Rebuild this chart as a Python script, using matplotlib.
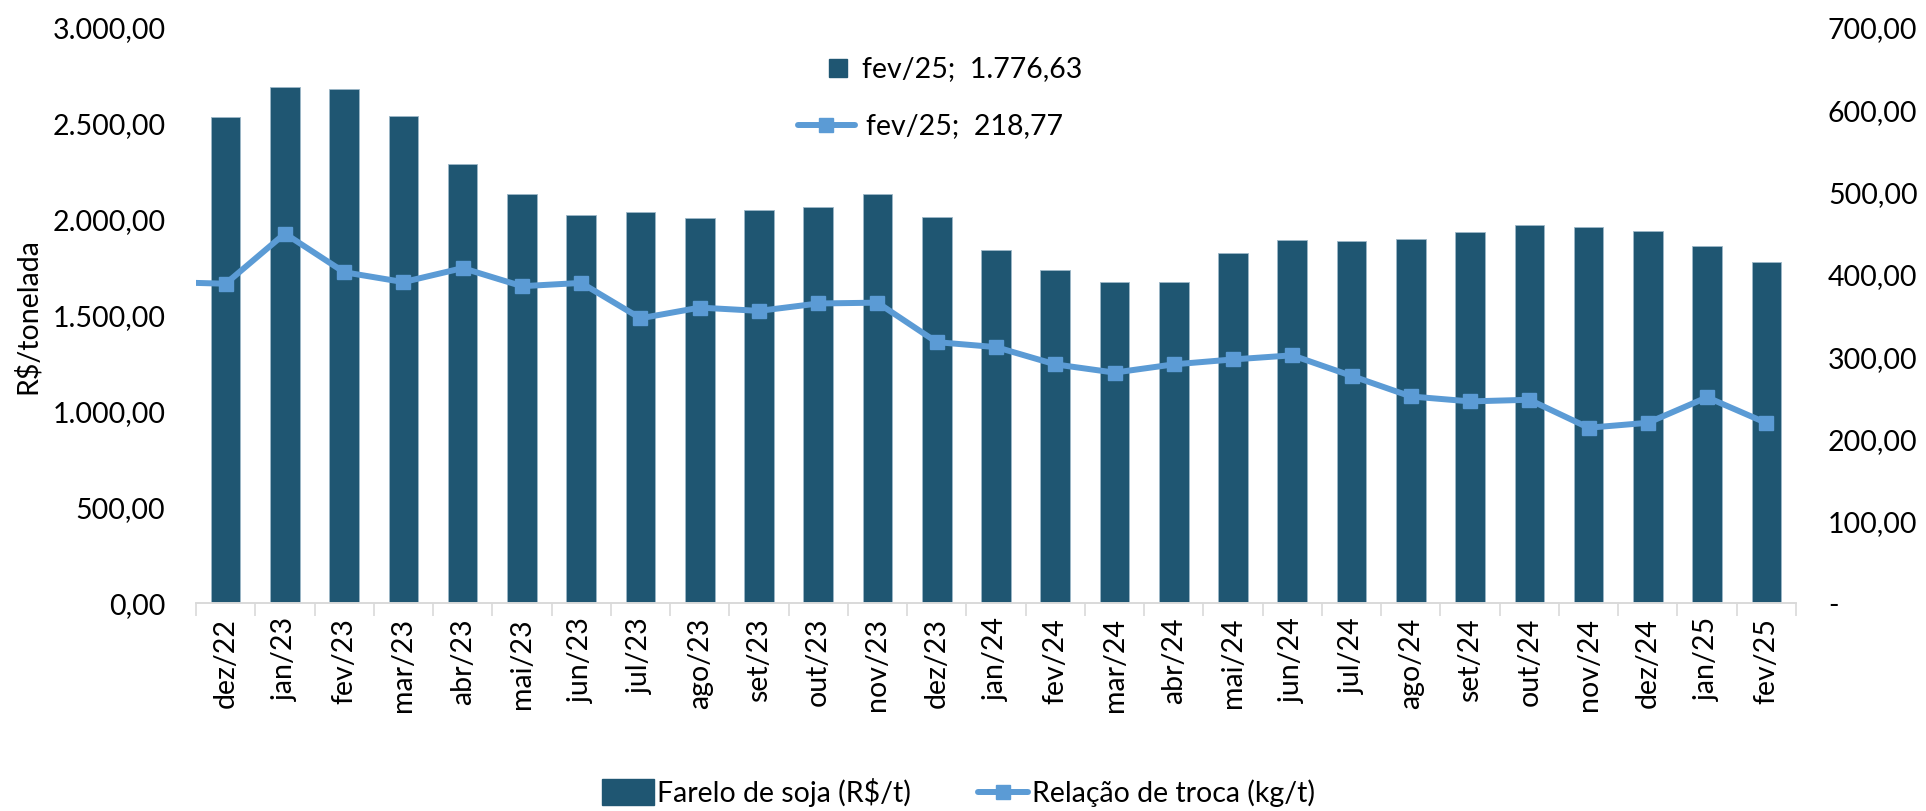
import numpy as np
import matplotlib.pyplot as plt
from matplotlib.ticker import FuncFormatter, FixedLocator
from matplotlib.patches import Rectangle
from matplotlib.lines import Line2D

plt.rcParams['font.family'] = ['Lato', 'DejaVu Sans']

# Data
meses = ['dez/22', 'jan/23', 'fev/23', 'mar/23', 'abr/23', 'mai/23', 'jun/23',
         'jul/23', 'ago/23', 'set/23', 'out/23', 'nov/23', 'dez/23', 'jan/24',
         'fev/24', 'mar/24', 'abr/24', 'mai/24', 'jun/24', 'jul/24', 'ago/24',
         'set/24', 'out/24', 'nov/24', 'dez/24', 'jan/25', 'fev/25']
farelo = [2530, 2688, 2679, 2535, 2286, 2128, 2021, 2036, 2005, 2049, 2064,
          2130, 2012, 1837, 1733, 1674, 1670, 1825, 1889, 1884, 1897, 1931,
          1971, 1957, 1939, 1858, 1776.63]
troca = [388, 449, 402, 390, 407, 385, 389, 346, 359, 355, 364, 365, 317,
         311, 290, 280, 290, 296, 301, 276, 251, 245, 247, 213, 219, 250, 218.77]
troca_anterior = 390  # nov/22, off the left edge of the chart

BAR = '#1F5672'
LINE = '#5B9BD5'
FS = 20.5


def br(v, dec=2):
    s = f'{v:,.{dec}f}'
    return s.replace(',', 'X').replace('.', ',').replace('X', '.')


fig = plt.figure(figsize=(19.26, 8.12), dpi=100)
W, H = 1926, 812
ax = fig.add_axes([196 / W, 1 - 604 / H, 1600 / W, 576 / H])
ax2 = ax.twinx()

x = np.arange(len(meses))
ax.bar(x, farelo, width=0.5, color=BAR, edgecolor='#9DB8C8', linewidth=0.6, zorder=2)

ax2.plot(np.concatenate([[-1], x]), [troca_anterior] + troca, color=LINE, lw=4.3,
         marker='s', markersize=10, markevery=list(range(1, len(x) + 1)),
         solid_joinstyle='round', solid_capstyle='round', zorder=3)

ax.set_xlim(-0.5, len(meses) - 0.5)
ax.set_ylim(0, 3000)
ax2.set_ylim(0, 700)
ax2.set_xlim(-0.5, len(meses) - 0.5)

ax.set_yticks(np.arange(0, 3001, 500))
ax.yaxis.set_major_formatter(FuncFormatter(lambda v, p: br(v)))
ax2.set_yticks(np.arange(0, 701, 100))
ax2.yaxis.set_major_formatter(FuncFormatter(lambda v, p: '-' if v == 0 else br(v)))

ax.set_xticks(x)
ax.set_xticklabels(meses, rotation=90, fontsize=FS)
ax.xaxis.set_minor_locator(FixedLocator(np.arange(-0.5, len(meses), 1)))
ax.tick_params(axis='x', which='major', length=0, pad=10)
ax.tick_params(axis='x', which='minor', length=9, color='#D9D9D9', width=1.2)
ax.tick_params(axis='y', length=0, pad=22, labelsize=FS)
ax2.tick_params(axis='y', length=0, pad=23, labelsize=FS)

for a in (ax, ax2):
    for s in ('top', 'left', 'right'):
        a.spines[s].set_visible(False)
    a.spines['bottom'].set_color('#D9D9D9')
    a.spines['bottom'].set_linewidth(1.2)

ax.set_ylabel('R$/tonelada', fontsize=FS)
ax.yaxis.set_label_coords(-0.097, 0.5)

# Data labels of the last month, moved to the top of the chart in the original
fig.add_artist(Line2D([838 / W], [1 - 69 / H], marker='s', markersize=13, color=BAR,
                      linestyle='none', transform=fig.transFigure))
fig.text(862 / W, 1 - 69 / H, f'{meses[-1]};  {br(farelo[-1])}', fontsize=FS,
         va='center', ha='left')
fig.add_artist(Line2D([798 / W, 855 / W], [1 - 126 / H] * 2, color=LINE, lw=4.3,
                      solid_capstyle='round', transform=fig.transFigure))
fig.add_artist(Line2D([826 / W], [1 - 126 / H], marker='s', markersize=10, color=LINE,
                      transform=fig.transFigure))
fig.text(866 / W, 1 - 126 / H, f'{meses[-1]};  {br(troca[-1])}', fontsize=FS,
         va='center', ha='left')

# Legend at the bottom
ly = 1 - 793 / H
fig.add_artist(Rectangle((602 / W, ly - 13 / H), 52 / W, 26 / H, color=BAR,
                         transform=fig.transFigure))
fig.text(657 / W, ly, 'Farelo de soja (R$/t)', fontsize=FS, va='center', ha='left')
fig.add_artist(Line2D([978 / W, 1028 / W], [ly, ly], color=LINE, lw=4.3,
                      solid_capstyle='round', transform=fig.transFigure))
fig.add_artist(Line2D([1003 / W], [ly], marker='s', markersize=10, color=LINE,
                      transform=fig.transFigure))
fig.text(1032 / W, ly, 'Relação de troca (kg/t)', fontsize=FS, va='center', ha='left')

fig.savefig('out.png', dpi=100)
